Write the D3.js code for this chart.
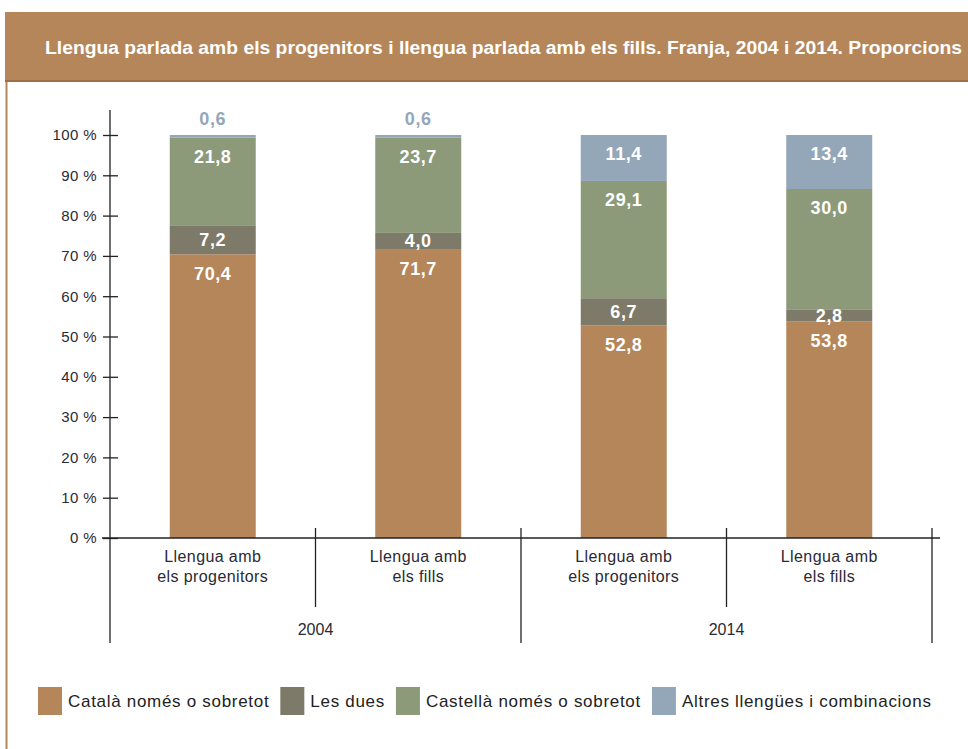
<!DOCTYPE html>
<html>
<head>
<meta charset="utf-8">
<script src="https://cdn.jsdelivr.net/npm/d3@7"></script>
<style>
  body { margin: 0; background: #fff; }
  svg { display: block; font-family: "Liberation Sans", Arial, sans-serif; }
</style>
</head>
<body>
<svg id="chart"></svg>
<script>
// data
const years = ["2004", "2014"];
const categories = ["Llengua amb|els progenitors", "Llengua amb|els fills"];
const seriesNames = ["Català només o sobretot", "Les dues", "Castellà només o sobretot", "Altres llengües i combinacions"];
const catala = [70.4, 71.7, 52.8, 53.8];
const lesDues = [7.2, 4.0, 6.7, 2.8];
const castella = [21.8, 23.7, 29.1, 30.0];
const altres = [0.6, 0.6, 11.4, 13.4];
const yTicks = [0, 10, 20, 30, 40, 50, 60, 70, 80, 90, 100];
const colors = ["#b5865a", "#7d7a6a", "#8c9a7a", "#94a7b9"];

const w = 968, h = 749;
const svg = d3.select("#chart").attr("width", w).attr("height", h);

// frame and title band
svg.append("line")
  .attr("x1", 6.5).attr("x2", 6.5).attr("y1", 12).attr("y2", h)
  .attr("stroke", "#b5865a").attr("stroke-width", 2);
svg.append("rect")
  .attr("x", 5).attr("y", 12).attr("width", w).attr("height", 70)
  .attr("fill", "#b5865a");
svg.append("line")
  .attr("x1", 5).attr("x2", w).attr("y1", 81).attr("y2", 81)
  .attr("stroke", "#9c6e45").attr("stroke-width", 2);
svg.append("text")
  .attr("x", 45).attr("y", 54)
  .attr("fill", "#fff")
  .attr("font-family", "'Liberation Sans', Arial, sans-serif")
  .attr("font-weight", "bold")
  .attr("font-size", 18)
  .attr("textLength", 917)
  .attr("lengthAdjust", "spacingAndGlyphs")
  .text("Llengua parlada amb els progenitors i llengua parlada amb els fills. Franja, 2004 i 2014. Proporcions");

// rows
const rows = [];
years.forEach((yr, gi) => {
  categories.forEach((c, ci) => {
    const i = gi * categories.length + ci;
    rows.push({ key: yr + "-" + ci, year: yr, cat: c, values: [catala[i], lesDues[i], castella[i], altres[i]] });
  });
});

const x0 = 110, x1 = 932;
const x = d3.scaleBand().domain(rows.map(d => d.key)).range([x0, x1]).paddingInner(0).paddingOuter(0);
const y = d3.scaleLinear().domain([0, 100]).range([538, 135]);
const barW = 86;

// y axis
const yAxis = d3.axisLeft(y).tickValues(yTicks).tickSize(0).tickFormat(d => d + " %");
const ya = svg.append("g").attr("transform", `translate(${x0},0)`).call(yAxis);
ya.select(".domain").remove();
ya.selectAll("text").attr("x", -13).attr("font-size", 15).attr("letter-spacing", 0.4)
  .attr("fill", "#2a2a35");
ya.selectAll(".tick").append("line")
  .attr("x1", -7).attr("x2", 8).attr("stroke", "#222").attr("stroke-width", 1.3);
svg.append("line")
  .attr("x1", x0).attr("x2", x0).attr("y1", 110).attr("y2", 643)
  .attr("stroke", "#222").attr("stroke-width", 1.3);

// stacked bars
const stack = rows.map(r => {
  let acc = 0;
  return r.values.map((v, si) => {
    const seg = { key: r.key, si, v, y0: acc, y1: acc + v };
    acc += v;
    return seg;
  });
});

const g = svg.append("g");
const segs = stack.flat();
g.selectAll("rect").data(segs).enter().append("rect")
  .attr("x", d => x(d.key) + (x.bandwidth() - barW) / 2)
  .attr("width", barW)
  .attr("y", d => y(d.y1))
  .attr("height", d => y(d.y0) - y(d.y1))
  .attr("fill", d => colors[d.si]);

g.selectAll("text.val").data(segs).enter().append("text")
  .attr("class", "val")
  .attr("x", d => x(d.key) + x.bandwidth() / 2)
  .attr("y", d => {
    const hh = y(d.y0) - y(d.y1);
    if (d.v < 1) return y(d.y1) - 16;
    return y(d.y1) + Math.min(hh / 2, 19);
  })
  .attr("dy", "0.36em")
  .attr("text-anchor", "middle")
  .attr("font-size", 18)
  .attr("letter-spacing", 0.6)
  .attr("font-weight", "bold")
  .attr("fill", d => d.v < 1 ? colors[3] : "#fff")
  .text(d => d3.format(".1f")(d.v).replace(".", ","));

// x axis
svg.append("line")
  .attr("x1", 102).attr("x2", 940).attr("y1", 538).attr("y2", 538)
  .attr("stroke", "#222").attr("stroke-width", 1.3);

rows.forEach((r, i) => {
  const bx = x(r.key) + x.bandwidth();
  const groupEnd = (i + 1) % categories.length === 0;
  svg.append("line")
    .attr("x1", bx).attr("x2", bx).attr("y1", 528).attr("y2", groupEnd ? 643 : 607)
    .attr("stroke", "#222").attr("stroke-width", 1.3);
  const lines = r.cat.split("|");
  const t = svg.append("text")
    .attr("text-anchor", "middle").attr("font-size", 16).attr("letter-spacing", 0.4)
    .attr("fill", "#2a2a35");
  lines.forEach((l, li) => {
    t.append("tspan").attr("x", x(r.key) + x.bandwidth() / 2).attr("y", 562 + li * 20).text(l);
  });
});

years.forEach((yr, gi) => {
  const keys = rows.filter(r => r.year === yr).map(r => r.key);
  const cx = (x(keys[0]) + x(keys[keys.length - 1]) + x.bandwidth()) / 2;
  svg.append("text")
    .attr("x", cx).attr("y", 635)
    .attr("text-anchor", "middle").attr("font-size", 16).attr("fill", "#2a2a35")
    .text(yr);
});

// legend
const leg = svg.append("g").attr("transform", "translate(38,687)");
let lx = 0;
seriesNames.forEach((n, i) => {
  const item = leg.append("g").attr("transform", `translate(${lx},0)`);
  item.append("rect").attr("width", 24).attr("height", 28).attr("fill", colors[i]);
  const t = item.append("text").attr("x", 30).attr("y", 20)
    .attr("font-size", 17).attr("letter-spacing", 0.7).attr("fill", "#222").text(n);
  lx += 30 + t.node().getComputedTextLength() + 11;
});
</script>
</body>
</html>
